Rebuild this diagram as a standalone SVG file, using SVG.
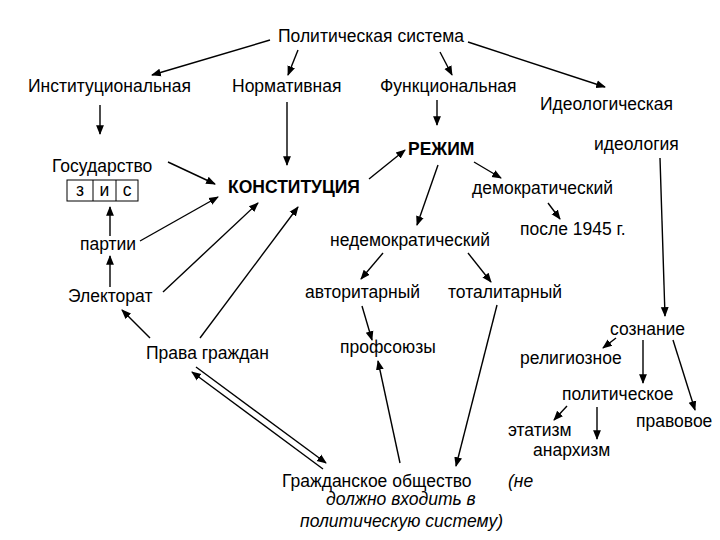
<svg xmlns="http://www.w3.org/2000/svg" width="720" height="540" viewBox="0 0 720 540">
<defs>
<marker id="a" viewBox="0 0 10 10" refX="9" refY="5" markerWidth="7" markerHeight="7" orient="auto-start-reverse"><path d="M0,1 L10,5 L0,9 Z" fill="#000"/></marker>
<style>
text{font-family:"Liberation Sans",Arial,sans-serif;font-size:17.5px;fill:#000}
.b{font-weight:bold}
.i{font-style:italic}
.c line{stroke:#000;stroke-width:1.4;marker-end:url(#a)}
</style>
</defs>
<rect width="720" height="540" fill="#fff"/>
<g id="title"><text x="371" y="42" text-anchor="middle">Политическая система</text></g>
<g id="inst"><text x="28" y="92">Институциональная</text></g>
<g id="norm"><text x="232" y="92">Нормативная</text></g>
<g id="func"><text x="380" y="92">Функциональная</text></g>
<g id="ideol"><text x="540" y="110">Идеологическая</text></g>
<g id="gos"><text x="52" y="172">Государство</text>
<rect x="67" y="180" width="71" height="21" fill="none" stroke="#000"/>
<line x1="93" y1="180" x2="93" y2="201" stroke="#000"/><line x1="116" y1="180" x2="116" y2="201" stroke="#000"/>
<text x="80" y="196" text-anchor="middle">з</text><text x="104.5" y="196" text-anchor="middle">и</text><text x="127" y="196" text-anchor="middle">с</text></g>
<g id="konst"><text class="b" x="228" y="193">КОНСТИТУЦИЯ</text></g>
<g id="rezhim"><text class="b" x="408" y="155">РЕЖИМ</text></g>
<g id="ideologia"><text x="594" y="150">идеология</text></g>
<g id="dem"><text x="472" y="194">демократический</text></g>
<g id="p1945"><text x="520" y="235">после 1945 г.</text></g>
<g id="nedem"><text x="330" y="246">недемократический</text></g>
<g id="partii"><text x="80" y="250">партии</text></g>
<g id="avt"><text x="305" y="298">авторитарный</text></g>
<g id="tot"><text x="448" y="298">тоталитарный</text></g>
<g id="elect"><text x="68" y="302">Электорат</text></g>
<g id="soz"><text x="610" y="335">сознание</text></g>
<g id="prava"><text x="146" y="359">Права граждан</text></g>
<g id="prof"><text x="340" y="353">профсоюзы</text></g>
<g id="relig"><text x="520" y="364">религиозное</text></g>
<g id="polit"><text x="562" y="400">политическое</text></g>
<g id="pravo"><text x="636" y="427">правовое</text></g>
<g id="etat"><text x="508" y="436">этатизм</text></g>
<g id="anarh"><text x="533" y="456">анархизм</text></g>
<g id="grazhd"><text x="282" y="487">Гражданское общество</text>
<text class="i" x="508" y="487">(не</text>
<text class="i" x="326" y="505">должно входить в</text>
<text class="i" x="300" y="527">политическую систему)</text></g>
<g class="c" id="connectors">
<line x1="270" y1="40" x2="152" y2="75"/>
<line x1="298" y1="50" x2="288" y2="75"/>
<line x1="440" y1="52" x2="452" y2="75"/>
<line x1="468" y1="42" x2="605" y2="87"/>
<line x1="100" y1="105" x2="100" y2="134"/>
<line x1="287" y1="102" x2="287" y2="165"/>
<line x1="437" y1="100" x2="437" y2="125"/>
<line x1="168" y1="162" x2="215" y2="184"/>
<line x1="110" y1="236" x2="110" y2="207"/>
<line x1="140" y1="241" x2="218" y2="197"/>
<line x1="110" y1="287" x2="110" y2="256"/>
<line x1="163" y1="292" x2="258" y2="203"/>
<line x1="150" y1="338" x2="122" y2="310"/>
<line x1="200" y1="338" x2="298" y2="207"/>
<line x1="369" y1="179" x2="405" y2="150"/>
<line x1="474" y1="162" x2="501" y2="178"/>
<line x1="548" y1="203" x2="560" y2="219"/>
<line x1="438" y1="165" x2="417" y2="225"/>
<line x1="383" y1="253" x2="361" y2="279"/>
<line x1="468" y1="253" x2="491" y2="282"/>
<line x1="362" y1="306" x2="372" y2="340"/>
<line x1="400" y1="463" x2="378" y2="361"/>
<line x1="497" y1="305" x2="456" y2="466"/>
<line x1="660" y1="158" x2="665" y2="316"/>
<line x1="616" y1="338" x2="603" y2="348"/>
<line x1="643" y1="340" x2="643" y2="383"/>
<line x1="673" y1="340" x2="695" y2="410"/>
<line x1="567" y1="406" x2="554" y2="420"/>
<line x1="597" y1="407" x2="597" y2="439"/>
<line x1="196" y1="367" x2="326" y2="463"/>
<line x1="323" y1="469" x2="192" y2="372"/>
</g>
</svg>
